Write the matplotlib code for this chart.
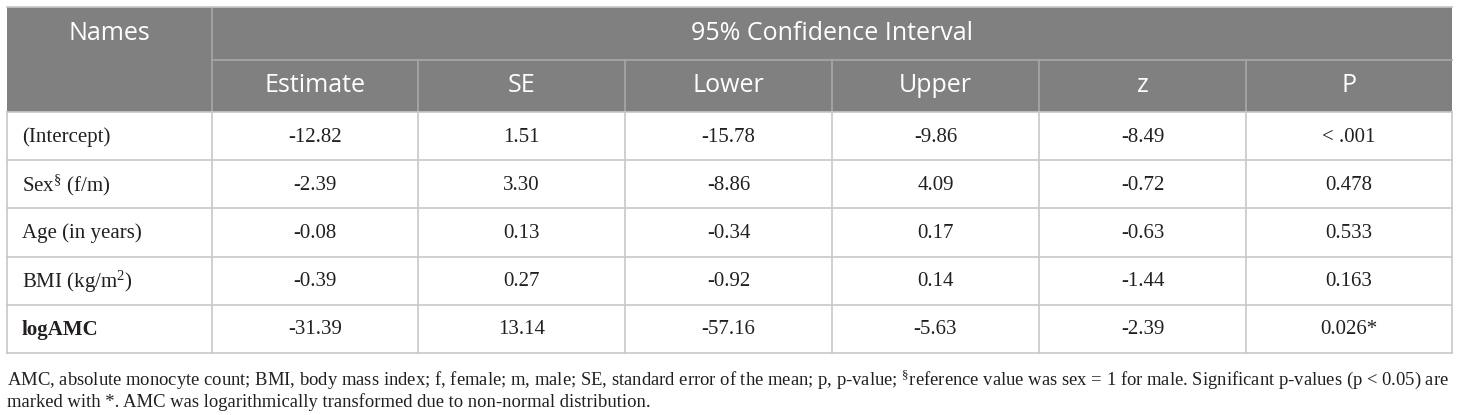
import matplotlib
matplotlib.use("Agg")
import matplotlib.pyplot as plt
from matplotlib.patches import Rectangle

plt.rcParams['mathtext.fontset'] = 'custom'
plt.rcParams['mathtext.rm'] = 'Liberation Serif'
plt.rcParams['mathtext.it'] = 'Liberation Serif:italic'
plt.rcParams['mathtext.bf'] = 'Liberation Serif:bold'

# ---- data ----
names = ["(Intercept)", "Sex$^{\\mathrm{§}}$ (f/m)", "Age (in years)",
         "BMI (kg/m$^{\\mathrm{2}}$)", "logAMC"]
bold_rows = [False, False, False, False, True]
estimate = ["-12.82", "-2.39", "-0.08", "-0.39", "-31.39"]
se = ["1.51", "3.30", "0.13", "0.27", "13.14"]
lower = ["-15.78", "-8.86", "-0.34", "-0.92", "-57.16"]
upper = ["-9.86", "4.09", "0.17", "0.14", "-5.63"]
zval = ["-8.49", "-0.72", "-0.63", "-1.44", "-2.39"]
pval = ["< .001", "0.478", "0.533", "0.163", "0.026*"]
col_headers = ["Estimate", "SE", "Lower", "Upper", "z", "P"]
group_header = "95% Confidence Interval"
first_header = "Names"
footnote1 = ("AMC, absolute monocyte count; BMI, body mass index; f, female; m, male; "
             "SE, standard error of the mean; p, p-value; ${}^{\\mathrm{§}}$reference value "
             "was sex = 1 for male. Significant p-values (p < 0.05) are")
footnote2 = "marked with *. AMC was logarithmically transformed due to non-normal distribution."

# ---- layout ----
W, H = 1460, 415
fig = plt.figure(figsize=(W / 100, H / 100), dpi=100)
ax = fig.add_axes([0, 0, 1, 1])
ax.set_xlim(0, W)
ax.set_ylim(H, 0)
ax.axis('off')

xs = [7, 212, 418, 625, 832, 1039, 1246, 1452]
y_top, y_h1, y_h2 = 7, 60, 112
row_h = 48.2
ys = [y_h2 + i * row_h for i in range(len(names) + 1)]

head_col = "#808080"
line_col = "#c8c8c8"
head_line = "#a8a8a8"
txt_col = "#231f20"

ax.add_patch(Rectangle((xs[0], y_top), xs[-1] - xs[0], y_h2 - y_top,
                       facecolor=head_col, edgecolor='none'))
# header internal lines
ax.plot([xs[1], xs[1]], [y_top, y_h2], color=head_line, lw=1.2)
ax.plot([xs[1], xs[-1]], [y_h1, y_h1], color=head_line, lw=1.2)
for x in xs[2:-1]:
    ax.plot([x, x], [y_h1, y_h2], color=head_line, lw=1.2)
ax.plot([xs[0], xs[-1]], [y_top, y_top], color=line_col, lw=1.2)

hfont = dict(family="Open Sans", color="white", fontsize=18, ha='center', va='center')
ax.text((xs[0] + xs[1]) / 2, (y_top + y_h1) / 2, first_header, **hfont)
ax.text((xs[1] + xs[-1]) / 2, (y_top + y_h1) / 2, group_header, **hfont)
for i, h in enumerate(col_headers):
    ax.text((xs[i + 1] + xs[i + 2]) / 2, (y_h1 + y_h2) / 2, h, **hfont)

# body grid
for y in ys:
    ax.plot([xs[0], xs[-1]], [y, y], color=line_col, lw=1.2)
for x in xs:
    ax.plot([x, x], [ys[0], ys[-1]], color=line_col, lw=1.2)

bfont = dict(family="Liberation Serif", color=txt_col, fontsize=15, va='center')
cols = [estimate, se, lower, upper, zval, pval]
for r in range(len(names)):
    yc = (ys[r] + ys[r + 1]) / 2 + 1
    ax.text(xs[0] + 15, yc, names[r], ha='left',
            fontweight='bold' if bold_rows[r] else 'normal', **bfont)
    for c, col in enumerate(cols):
        ax.text((xs[c + 1] + xs[c + 2]) / 2, yc, col[r], ha='center', **bfont)

# footnotes, fitted to table width
ffont = dict(family="Liberation Serif", color=txt_col, va='center', ha='left')
t1 = ax.text(xs[0], 380, footnote1, fontsize=13, **ffont)
fig.canvas.draw()
r = fig.canvas.get_renderer()
w = t1.get_window_extent(r).width
fs = 13 * (xs[-1] - xs[0] - 2) / w
t1.set_fontsize(fs)
ax.text(xs[0], 402, footnote2, fontsize=fs, **ffont)

fig.savefig("out.png", dpi=100, facecolor="white")
